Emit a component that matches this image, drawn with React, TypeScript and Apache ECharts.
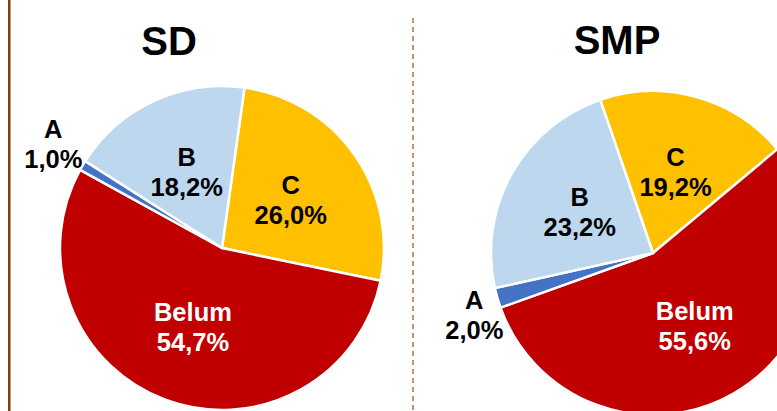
import React, { useEffect, useRef } from "react";
import * as echarts from "echarts";

const categories = ["C", "Belum", "A", "B"];
const sdValues = [26.0, 54.7, 1.0, 18.2];
const smpValues = [19.2, 55.6, 2.0, 23.2];
const titles = ["SD", "SMP"];

const sliceColors: Record<string, string> = {
  C: "#FFC000",
  Belum: "#C00000",
  A: "#4472C4",
  B: "#BDD7EE",
};

const FONT = "'Liberation Sans', Arial, sans-serif";

type PieLayout = {
  center: [number, number];
  radius: number;
  startAngle: number;
  aDist: number;
  aDy: number;
  titleX: number;
  titleY: number;
};

const layouts: PieLayout[] = [
  { center: [222, 248], radius: 162, startAngle: 82, aDist: 196, aDy: -4, titleX: 169, titleY: 41 },
  { center: [653, 253], radius: 162, startAngle: 109, aDist: 186, aDy: 10, titleX: 617, titleY: 40 },
];

function fmt(v: number) {
  return v.toFixed(1).replace(".", ",") + "%";
}

function outsideLabelPos(values: number[], idx: number, lay: PieLayout) {
  const sum = values.reduce((a, b) => a + b, 0);
  let before = 0;
  for (let i = 0; i < idx; i++) before += values[i];
  const startCw = 90 - lay.startAngle; // degrees clockwise from 12 o'clock
  const mid = startCw + ((before + values[idx] / 2) / sum) * 360;
  const rad = (mid * Math.PI) / 180;
  return {
    x: lay.center[0] + Math.sin(rad) * lay.aDist,
    y: lay.center[1] - Math.cos(rad) * lay.aDist + lay.aDy,
  };
}

function buildSeries(values: number[], lay: PieLayout, name: string) {
  const aIdx = categories.indexOf("A");
  return {
    type: "pie",
    name,
    center: lay.center,
    radius: lay.radius,
    startAngle: lay.startAngle,
    clockwise: true,
    avoidLabelOverlap: false,
    silent: true,
    itemStyle: { borderColor: "#FFFFFF", borderWidth: 2.5 },
    label: {
      show: true,
      position: "inside",
      fontFamily: FONT,
      fontWeight: "bold",
      fontSize: 25.5,
      lineHeight: 30,
      color: "#000000",
      formatter: (p: any) => `${p.name}\n${fmt(p.value)}`,
    },
    labelLine: { show: false },
    labelLayout: (params: any) => {
      if (params.dataIndex !== aIdx) return {};
      const pos = outsideLabelPos(values, aIdx, lay);
      return { x: pos.x, y: pos.y, align: "center", verticalAlign: "middle" };
    },
    data: categories.map((c, i) => ({
      name: c,
      value: values[i],
      itemStyle: { color: sliceColors[c] },
      label:
        c === "Belum"
          ? { color: "#FFFFFF" }
          : c === "A"
          ? { position: "outside", color: "#000000" }
          : {},
      labelLine: { show: false },
    })),
  };
}

export default function App() {
  const ref = useRef<HTMLDivElement>(null);
  useEffect(() => {
    if (!ref.current) return;
    const chart = echarts.init(ref.current, undefined, { renderer: "svg" });
    chart.setOption({
      animation: false,
      backgroundColor: "#FFFFFF",
      graphic: [
        {
          type: "line",
          shape: { x1: 9.25, y1: 0, x2: 9.25, y2: 411 },
          style: { stroke: "#843C0C", lineWidth: 2.5 },
          silent: true,
        },
        {
          type: "line",
          shape: { x1: 413, y1: 18, x2: 413, y2: 411 },
          style: { stroke: "#A9714A", lineWidth: 1.5, lineDash: [5, 4] },
          silent: true,
        },
        ...titles.map((t, i) => ({
          type: "text",
          x: layouts[i].titleX,
          y: layouts[i].titleY,
          silent: true,
          style: {
            text: t,
            fill: "#000000",
            font: `bold 40px ${FONT}`,
            textAlign: "center",
            textVerticalAlign: "middle",
          },
        })),
      ],
      series: [
        buildSeries(sdValues, layouts[0], titles[0]),
        buildSeries(smpValues, layouts[1], titles[1]),
      ],
    });
    return () => chart.dispose();
  }, []);
  return (
    <div
      ref={ref}
      style={{ position: "fixed", left: 0, top: 0, width: 777, height: 411 }}
    />
  );
}
